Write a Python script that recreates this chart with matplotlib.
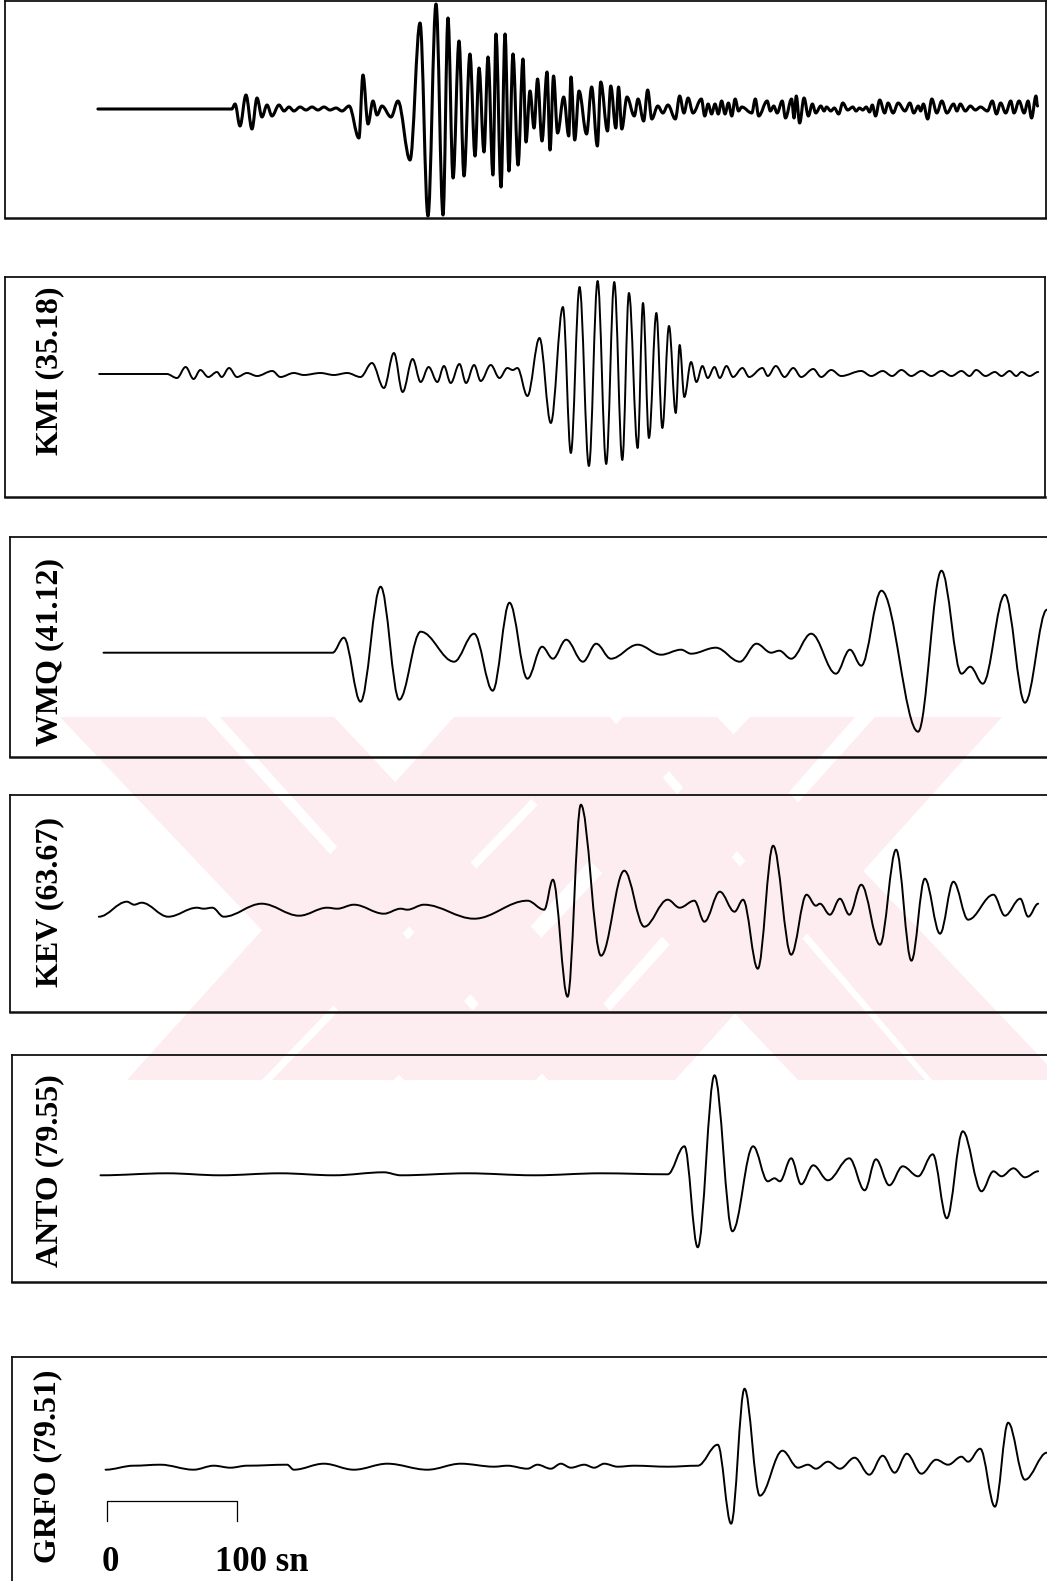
import numpy as np
import matplotlib.pyplot as plt
from matplotlib.path import Path
from matplotlib.patches import PathPatch, Polygon

# ---- seismogram extrema: (time in s, amplitude) ----
top_trace = [
    (-7, 0), (96, 0), (98.5, 5), (102.3, -17), (106.9, 14), (111.5, -20), (115.4, 11),
    (119.2, -8), (123.1, 4), (126.9, -7), (132.3, 4), (136.2, -2), (140, 2), (143.8, -2),
    (148.5, 2), (153.1, -1), (157.7, 2), (162.3, -1), (166.9, 2), (171.5, -1), (176.2, 1),
    (180.8, -2), (186.2, 3), (193.8, -29), (196.9, 34), (200.8, -15), (204.6, 8),
    (207.7, -6), (211.5, 3), (218.5, -8), (223.8, 8), (233.1, -51), (240.8, 86),
    (246.9, -107), (253.1, 105), (258.5, -106), (262.3, 91), (266.2, -69), (270.8, 68),
    (274.6, -67), (279.2, 55), (283.1, -47), (286.2, 41), (290, -43), (293.1, 52),
    (296.9, -66), (299.2, 75), (303.1, -78), (306.2, 75), (309.2, -62), (312.3, 55),
    (316.2, -56), (320, 50), (322.3, -33), (325.4, 18), (328.5, -19), (331.2, 30),
    (334.6, -32), (338.5, 37), (340.8, -41), (343.5, 33), (346.6, -24), (351.3, 12),
    (355.2, -27), (356.9, 32), (359.8, -31), (363.1, 18), (368.9, -25), (372.8, 22),
    (377.2, -37), (379.8, 27), (385, -22), (387.5, 23), (391.4, -19), (393.5, 22),
    (396, -20), (400, 12), (405.6, -7), (408.5, 10), (412.8, -12), (415.9, 19),
    (419.1, -10), (423.7, 3), (427.6, -4), (431.5, 4), (437.2, -10), (440.5, 13),
    (443.8, -4), (447, 11), (450.8, -4), (457.2, 10), (459.8, -7), (462.4, 5),
    (465.1, -5), (467.7, 5), (470.2, -5), (472.8, 8), (475.4, -5), (478, 6), (480.6, -7),
    (483.2, 10), (485.8, -2), (488.3, 2), (496, -4), (498.7, 10), (501.3, -7), (507.8, 8),
    (510.3, -2), (512.9, 3), (515.5, -4), (519.4, 8), (521.9, -9), (526.6, 10),
    (528.5, -9), (530.2, 13), (532.8, -14), (536.2, 11), (539.5, -7), (542.6, 5),
    (545.2, -4), (549.1, 3), (551.6, -2), (553.5, 2), (556.8, -2), (559.5, 1), (562.8, -5),
    (566, 6), (569.8, -1), (573.7, 2), (576.2, -2), (578.8, 1), (581.4, -1), (584, 2),
    (586.6, -3), (588.7, 4), (591.2, -7), (594.4, 9), (598.2, -4), (600.8, 6), (604.7, -4),
    (608.6, 6), (613.8, -2), (617.6, 6), (620.6, -4), (624.1, 3), (625.9, -2), (628, 5),
    (631.3, -10), (634.5, 10), (638.3, -4), (642.2, 8), (646.1, -4), (651.2, 5),
    (653.8, -2), (656.4, 5), (660.3, -2), (664.1, 3), (668, -1), (671.9, 2), (677.2, -2),
    (681, 8), (684.2, -5), (687.4, 6), (691.3, -4), (695.2, 8), (697.7, -4), (701.6, 8),
    (705.5, -4), (708.5, 8), (711.2, -9), (714.6, 13), (715.8, 3),
]

kmi_trace = [
    (-6, 0), (46, 0), (53.8, -4), (60.5, 7), (66.6, -5), (71.8, 4), (77.9, -3), (84.6, 2),
    (88.2, -3), (93.9, 6), (100, -3), (107.7, 1), (115.4, -2), (127.2, 3), (133.4, -3),
    (143.7, 1), (151.4, -1), (164.2, 1), (174.5, -1), (184.8, 1), (195, -3), (203.8, 11),
    (213, -14), (220.7, 21), (227.4, -18), (235.1, 15), (241.3, -8), (247.4, 7),
    (254.1, -8), (259.2, 8), (264.4, -9), (271.1, 10), (276.2, -9), (282.4, 9),
    (287.5, -7), (295.2, 9), (301.9, -4), (308, 6), (312.1, 4), (315.7, 6), (323.4, -22),
    (332.7, 36), (341.4, -49), (350.7, 67), (356.8, -79), (363.5, 87), (370.7, -92),
    (377.4, 93), (384, -90), (390.2, 92), (396.4, -86), (401.5, 81), (408.2, -74),
    (412.3, 71), (416.9, -64), (422.6, 61), (427.2, -54), (432.3, 48), (437.5, -39),
    (440.5, 29), (444.1, -23), (449.3, 12), (453.4, -8), (458, 8), (462.1, -4), (467.3, 7),
    (471.4, -4), (476.5, 8), (481.6, -3), (488.8, 6), (494, -3), (504.2, 6), (508.3, -2),
    (514.5, 8), (521.2, -3), (527.9, 6), (534, -3), (543.3, 5), (549.4, -3), (557.1, 4),
    (564.8, -2), (580.2, 3), (587.9, -2), (596.7, 3), (603.9, -2), (611.1, 4), (618.7, -2),
    (626.5, 3), (634.2, -2), (641.9, 3), (649.6, -2), (657.3, 3), (663.4, -2), (668.6, 4),
    (675.8, -2), (683, 2), (688.1, -2), (694.3, 3), (699.4, -2), (703.5, 2), (709.7, -2),
    (716.3, 2),
]

wmq_trace = [
    (-2.7, 0), (173.5, 0), (182.2, 15), (195, -49), (210.5, 66), (224.8, -47), (241.3, 21),
    (267, -9), (282.4, 19), (296.7, -38), (309.6, 50), (323.4, -26), (334.7, 6), (343, -6),
    (353.2, 13), (366.1, -9), (376.3, 9), (387.6, -6), (408.2, 8), (426.2, -2), (441.6, 3),
    (449.3, -1), (468.3, 5), (486.8, -9), (499.6, 9), (510.9, 0), (517.1, 2), (526.3, -6),
    (541.7, 19), (560.7, -21), (571.5, 3), (580.2, -13), (595.7, 62), (623.9, -79),
    (641.9, 82), (657.3, -21), (664, -14), (673.7, -31), (690.7, 58), (706.1, -50),
    (723, 43),
]

kev_trace = [
    (-6.3, -5), (15.3, 10), (20.9, 7), (26.6, 9), (47.1, -5), (69.2, 4), (74.3, 3),
    (81, 4), (89.8, -5), (119, 8), (147.8, -4), (169.4, 4), (177.1, 3), (189.9, 7),
    (213, -2), (225.9, 3), (231, 2), (243.8, 7), (282.4, -7), (323.4, 11), (336.3, 2),
    (343, 32), (354.3, -85), (364.5, 107), (380, -44), (397.9, 41), (413.3, -15),
    (431.3, 12), (440.5, 4), (451.8, 11), (459.5, -10), (471.4, 20), (482.7, 0),
    (489.3, 12), (500.6, -57), (512.4, 66), (526.3, -43), (538.1, 17), (545.3, 6),
    (548.4, 8), (556.1, -3), (563.8, 13), (571, -3), (580.2, 27), (594.6, -33), (607, 62),
    (618.8, -49), (629.1, 33), (640.8, -22), (651.1, 30), (662.4, -8), (681.9, 17),
    (690.7, -4), (702.5, 13), (708.6, -5), (716.3, 8),
]

anto_trace = [
    (-5, -1), (46, 1), (87, -1), (133, 1), (174.5, -1), (213, 2), (226, -1), (277, 1),
    (328.6, -1), (380, 1), (431.3, 0), (444.2, 28), (454.4, -73), (467.3, 99),
    (481.1, -57), (497, 28), (508.3, -7), (513.5, -4), (517.6, -7), (526.3, 16), (534, -10),
    (543.3, 9), (554.5, -6), (571, 16), (582.8, -16), (591.5, 15), (601.8, -11),
    (612.1, 8), (623.9, -2), (635.2, 20), (646, -44), (658.3, 43), (672.7, -17),
    (681.9, 3), (688.1, -2), (697.3, 6), (706.1, -3), (716.3, 3),
]

grfo_trace = [
    (-1.1, -3), (20.4, 1), (41, 2), (66.6, -3), (82.1, 1), (94.9, -1), (107.7, 1),
    (138.5, 2), (143.7, -3), (166.8, 3), (189.9, -3), (215.6, 3), (246.4, -3), (272.1, 3),
    (297.8, 0), (308, 1), (323.4, -2), (331.1, 2), (341.4, -2), (349.1, 3), (356.8, -1),
    (367.1, 2), (374.8, -1), (382.5, 3), (392.8, 0), (405.6, 1), (431.3, 0), (454.4, 1),
    (469.8, 22), (480.1, -57), (490.4, 78), (502.2, -29), (519.6, 16), (531.5, -1),
    (539.2, 2), (545.3, -2), (554.6, 5), (563.8, -2), (575.1, 9), (586.4, -8), (596.7, 11),
    (605.9, -6), (615.2, 13), (626.5, -7), (637.8, 7), (647, 2), (657.3, 10), (662.4, 5),
    (671.7, 18), (683, -40), (693.2, 44), (706.1, -13), (723, 14),
]

labels = ['', 'KMI (35.18)', 'WMQ (41.12)', 'KEV (63.67)', 'ANTO (79.55)', 'GRFO (79.51)']
traces = [top_trace, kmi_trace, wmq_trace, kev_trace, anto_trace, grfo_trace]
scale_len = 100  # seconds
scale_text = ('0', '100 sn')

# ---- layout (pixels on the page) ----
W, H = 1047, 1581
PX_PER_S = 1.3
X0 = 107  # page x of t = 0
# left, top, right, bottom, baseline, label x, label y
boxes = [
    (5, 1, 1046, 218, 109, None, None),
    (5, 277, 1045, 497, 374, 50, 371),
    (10, 537, 1060, 757, 652.7, 50, 652),
    (10, 795, 1060, 1012, 911.7, 50, 902),
    (12, 1055, 1060, 1282, 1174.3, 50, 1171),
    (12, 1357, 1060, 1600, 1466.7, 48, 1466),
]
trace_lw = [2.2, 1.4, 1.4, 1.4, 1.4, 1.4]

# faint watermark stripes behind the panels: top x0, top x1, bottom x0, bottom x1
wm_top, wm_bot = 717, 1080
wm_color = '#fdedf0'
wm_stripes = [
    (60, 205, 404, 536), (220, 334, 548, 675), (454, 610, 798, 925), (623, 717, 932, 1062),
    (454, 610, 127, 262), (623, 717, 272, 394), (750, 855, 407, 536), (875, 1002, 548, 675),
]


def smooth_path(pts, k=0.36):
    # cubic segments between successive extrema, flat tangents at each one
    verts = [pts[0]]
    codes = [Path.MOVETO]
    for (t1, a1), (t2, a2) in zip(pts[:-1], pts[1:]):
        d = t2 - t1
        verts += [(t1 + k * d, a1), (t2 - k * d, a2), (t2, a2)]
        codes += [Path.CURVE4] * 3
    return Path(verts, codes)


fig = plt.figure(figsize=(W / 100, H / 100), dpi=100)
fig.patch.set_facecolor('white')

bg = fig.add_axes([0, 0, 1, 1], zorder=0)
bg.set_xlim(0, W)
bg.set_ylim(H, 0)
bg.axis('off')
for tx0, tx1, bx0, bx1 in wm_stripes:
    bg.add_patch(Polygon([(tx0, wm_top), (tx1, wm_top), (bx1, wm_bot), (bx0, wm_bot)],
                         closed=True, facecolor=wm_color, edgecolor='none'))

serif = 'Liberation Serif'
axes = []
for (l, t, r, b, base, lx, ly), pts, lab, lw in zip(boxes, traces, labels, trace_lw):
    ax = fig.add_axes([l / W, 1 - b / H, (r - l) / W, (b - t) / H], zorder=1)
    ax.patch.set_alpha(0)
    ax.set_xlim((l - X0) / PX_PER_S, (r - X0) / PX_PER_S)
    ax.set_ylim(base - b, base - t)
    ax.set_xticks([])
    ax.set_yticks([])
    for sp in ax.spines.values():
        sp.set_linewidth(1.3)
        sp.set_color('#111111')
    ax.spines['bottom'].set_linewidth(1.8)
    ax.add_patch(PathPatch(smooth_path(pts), fill=False, lw=lw, edgecolor='black',
                           joinstyle='round', capstyle='round'))
    if lab:
        fig.text(lx / W, 1 - ly / H, lab, rotation=90, ha='center', va='center',
                 fontsize=23, fontweight='bold', family=serif)
    axes.append(ax)

# time scale bar in the last panel
ax = axes[-1]
ax.plot([0, 0, scale_len, scale_len], [-54, -34, -34, -54], color='black', lw=0.9)
ax.text(2.3, -96, scale_text[0], ha='center', va='center', fontsize=25,
        fontweight='bold', family=serif)
ax.text(83, -96, scale_text[1], ha='left', va='center', fontsize=25,
        fontweight='bold', family=serif)

fig.savefig('out.png', dpi=100)
